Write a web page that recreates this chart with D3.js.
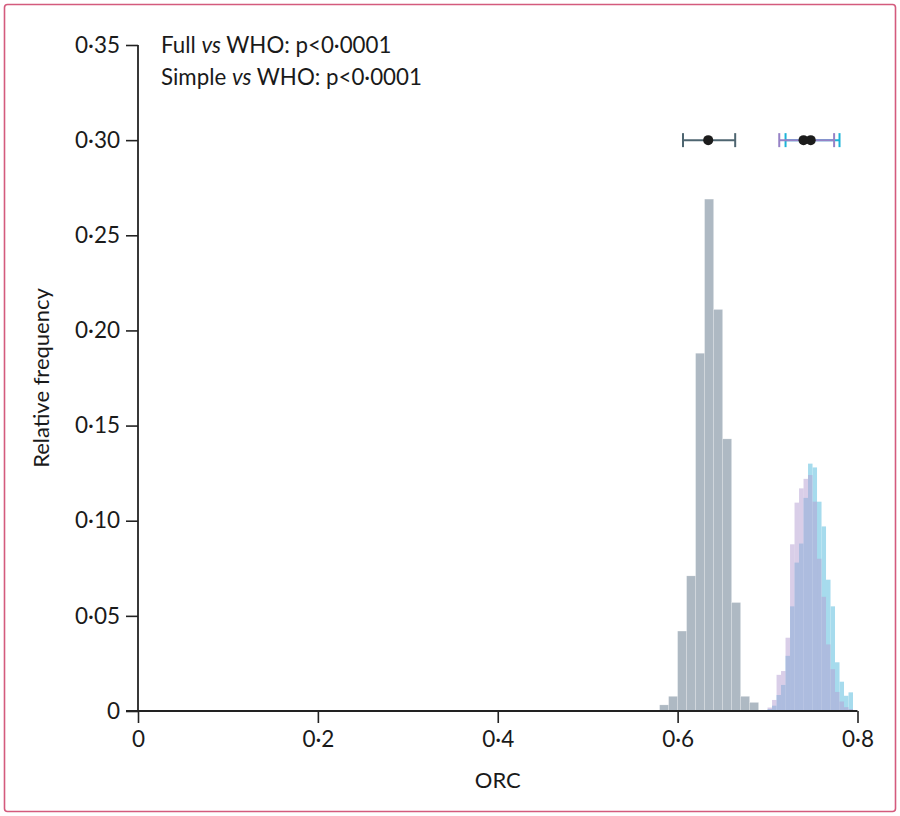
<!DOCTYPE html>
<html>
<head>
<meta charset="utf-8">
<script src="https://cdn.jsdelivr.net/npm/d3@7"></script>
<style>
  body { margin: 0; background: #fff; }
  text { font-family: Lato, "Open Sans", sans-serif; fill: #1a1a1a; }
</style>
</head>
<body>
<div id="chart"></div>
<script>
// WHO score histogram, bins of 0.01
const whoBins = [0.58, 0.59, 0.60, 0.61, 0.62, 0.63, 0.64, 0.65, 0.66, 0.67, 0.68];
const whoFreq = [0.0032, 0.0077, 0.042, 0.071, 0.188, 0.269, 0.211, 0.143, 0.057, 0.0077, 0.0045];

// full and simple model histograms, bins of 0.005
const modelBins = [0.695, 0.700, 0.705, 0.710, 0.715, 0.720, 0.725, 0.730, 0.735, 0.740,
                   0.745, 0.750, 0.755, 0.760, 0.765, 0.770, 0.775, 0.780, 0.785, 0.790];
const simpleFreq = [0, 0.001, 0.0028, 0.0084, 0.0137, 0.029, 0.055, 0.078, 0.088, 0.112,
                    0.130, 0.128, 0.110, 0.097, 0.069, 0.055, 0.0256, 0.0154, 0.008, 0.0098];
const fullFreq = [0.0005, 0.0018, 0.0058, 0.019, 0.021, 0.0385, 0.0876, 0.1095, 0.117, 0.122,
                  0.124, 0.110, 0.080, 0.060, 0.035, 0.022, 0.010, 0.005, 0.002, 0.001];

// mean and 95% interval shown at the top
const ciNames = ['WHO', 'Simple', 'Full'];
const ciLow = [0.606, 0.720, 0.713];
const ciMid = [0.634, 0.748, 0.740];
const ciHigh = [0.664, 0.780, 0.774];
const ciLevel = 0.30;

const xTicks = [0, 0.2, 0.4, 0.6, 0.8];
const xTickLabels = ['0', '0·2', '0·4', '0·6', '0·8'];
const yTicks = [0, 0.05, 0.10, 0.15, 0.20, 0.25, 0.30, 0.35];
const yTickLabels = ['0', '0·05', '0·10', '0·15', '0·20', '0·25', '0·30', '0·35'];
const notes = ['Full vs WHO: p<0·0001', 'Simple vs WHO: p<0·0001'];

const config = {
  width: 900,
  height: 816,
  margin: { top: 45, right: 42.5, bottom: 105, left: 138 }
};

const colors = { WHO: '#4e6570', Simple: '#1cb3d7', Full: '#9682c6' };

const width = config.width - config.margin.left - config.margin.right;
const height = config.height - config.margin.top - config.margin.bottom;

const svg = d3.select('#chart')
    .append('svg')
    .attr('width', config.width)
    .attr('height', config.height);

// pink frame round the figure
svg.append('rect')
    .attr('x', 4.5).attr('y', 4.5)
    .attr('width', config.width - 9).attr('height', config.height - 9)
    .attr('rx', 3)
    .attr('fill', 'none')
    .attr('stroke', '#d45b7d')
    .attr('stroke-width', 1.6);

const g = svg.append('g')
    .attr('transform', `translate(${config.margin.left}, ${config.margin.top})`);

const xScale = d3.scaleLinear().domain([0, 0.8]).range([0, width]);
const yScale = d3.scaleLinear().domain([0, 0.35]).range([height, 0]);

// histograms
function drawBars(bins, freq, binWidth, fill, opacity, stroke) {
  g.append('g')
    .selectAll('rect')
    .data(bins.map((b, i) => ({ x0: b, x1: b + binWidth, f: freq[i] })))
    .join('rect')
      .attr('x', d => xScale(d.x0))
      .attr('width', d => xScale(d.x1) - xScale(d.x0))
      .attr('y', d => yScale(d.f))
      .attr('height', d => yScale(0) - yScale(d.f))
      .attr('fill', fill)
      .attr('fill-opacity', opacity)
      .attr('stroke', stroke)
      .attr('stroke-width', stroke === 'none' ? 0 : 0.6);
}

drawBars(whoBins, whoFreq, 0.01, '#aeb9c3', 1, 'rgba(255,255,255,0.3)');
drawBars(modelBins, simpleFreq, 0.005, '#a6dbed', 1, 'none');
drawBars(modelBins, fullFreq, 0.005, '#b49dd1', 0.5, 'none');

// interval bars, simple first so the full line sits on top
const capHalf = 7;
ciNames.forEach((name, i) => {
  const c = colors[name];
  const cy = yScale(ciLevel);
  const eb = g.append('g').attr('stroke', c).attr('stroke-width', 2);
  eb.append('line')
      .attr('x1', xScale(ciLow[i])).attr('x2', xScale(ciHigh[i]))
      .attr('y1', cy).attr('y2', cy);
  [ciLow[i], ciHigh[i]].forEach(v => {
    eb.append('line')
        .attr('x1', xScale(v)).attr('x2', xScale(v))
        .attr('y1', cy - capHalf).attr('y2', cy + capHalf);
  });
});

g.append('g')
  .selectAll('circle')
  .data(ciMid)
  .join('circle')
    .attr('cx', d => xScale(d))
    .attr('cy', yScale(ciLevel))
    .attr('r', 5)
    .attr('fill', '#1c1c1c');

// axes
const xAxis = d3.axisBottom(xScale)
    .tickValues(xTicks)
    .tickFormat((d, i) => xTickLabels[i])
    .tickSize(12)
    .tickPadding(8);

const yAxis = d3.axisLeft(yScale)
    .tickValues(yTicks)
    .tickFormat((d, i) => yTickLabels[i])
    .tickSize(12)
    .tickPadding(6);

const xAxisGroup = g.append('g')
    .attr('transform', `translate(0, ${height})`)
    .call(xAxis);
const yAxisGroup = g.append('g').call(yAxis);

[xAxisGroup, yAxisGroup].forEach(ax => {
  ax.select('.domain').remove();
  ax.selectAll('line').attr('stroke', '#222').attr('stroke-width', 1.6);
  ax.selectAll('text').style('font-size', '22.5px').attr('fill', '#1a1a1a');
});

// axis lines, x line runs a little past the y axis
g.append('line')
    .attr('x1', -12).attr('x2', xScale(0.8))
    .attr('y1', height).attr('y2', height)
    .attr('stroke', '#222').attr('stroke-width', 1.8);
g.append('line')
    .attr('x1', 0).attr('x2', 0)
    .attr('y1', yScale(0.35)).attr('y2', height)
    .attr('stroke', '#222').attr('stroke-width', 1.8);

// axis titles
g.append('text')
    .attr('x', width / 2)
    .attr('y', height + 77)
    .attr('text-anchor', 'middle')
    .style('font-size', '22px')
    .text('ORC');

g.append('text')
    .attr('transform', `translate(${41 - config.margin.left}, ${height / 2}) rotate(-90)`)
    .attr('text-anchor', 'middle')
    .attr('dy', '0.35em')
    .style('font-size', '22px')
    .text('Relative frequency');

// p value notes, "vs" in italics
notes.forEach((n, i) => {
  const parts = n.split(' vs ');
  const t = g.append('text')
      .attr('x', 23)
      .attr('y', 8 + i * 32)
      .style('font-size', '22.3px');
  t.append('tspan').text(parts[0] + ' ');
  t.append('tspan').style('font-style', 'italic').text('vs');
  t.append('tspan').text(' ' + parts[1]);
});
</script>
</body>
</html>
